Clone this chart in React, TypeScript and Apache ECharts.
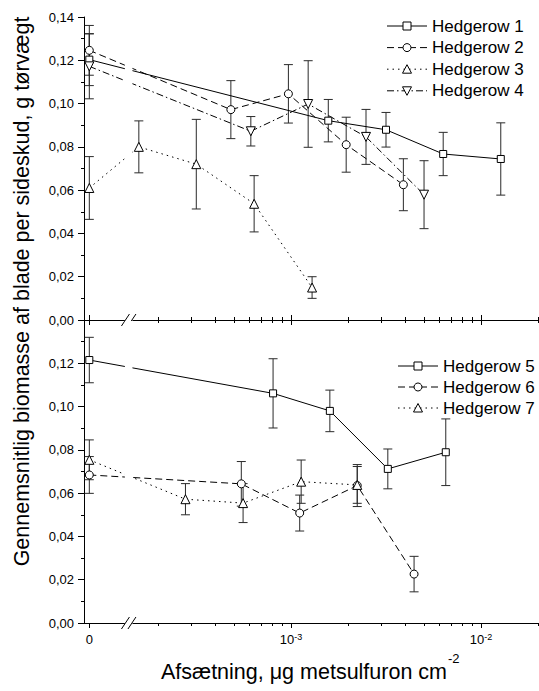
import React, { useEffect, useRef } from 'react';
import * as echarts from 'echarts';

// Axis layout constants (log10 units on the x axis)
const ZERO_POS = -4.062; // where the zero dose sits, left of the axis break
const BREAK_POS = -3.855; // axis break
const X_MIN = -4.09;
const X_MAX = -1.695;

const majorTickDoses = [0, 1e-3, 1e-2];
const minorTickDoses = [
  2e-4, 3e-4, 4e-4, 5e-4, 6e-4, 7e-4, 8e-4, 9e-4,
  2e-3, 3e-3, 4e-3, 5e-3, 6e-3, 7e-3, 8e-3, 9e-3, 2e-2,
];

// Top panel
const h1Dose = [0, 1.57e-3, 3.16e-3, 6.32e-3, 1.27e-2];
const h1Mean = [0.1203, 0.0921, 0.0879, 0.0767, 0.0744];
const h1Err = [0.012, 0.0098, 0.008, 0.01, 0.0167];

const h2Dose = [0, 4.82e-4, 9.68e-4, 1.95e-3, 3.9e-3];
const h2Mean = [0.1246, 0.0972, 0.1045, 0.081, 0.0625];
const h2Err = [0.0115, 0.0134, 0.0135, 0.0127, 0.012];

const h3Dose = [0, 1.58e-4, 3.17e-4, 6.39e-4, 1.29e-3];
const h3Mean = [0.061, 0.08, 0.072, 0.0537, 0.015];
const h3Err = [0.0145, 0.012, 0.0207, 0.013, 0.005];

const h4Dose = [0, 6.14e-4, 1.23e-3, 2.48e-3, 5.01e-3];
const h4Mean = [0.1172, 0.0872, 0.0998, 0.0846, 0.0579];
const h4Err = [0.015, 0.0068, 0.02, 0.0127, 0.0157];

// Bottom panel
const h5Dose = [0, 8.04e-4, 1.6e-3, 3.23e-3, 6.52e-3];
const h5Mean = [0.1215, 0.1061, 0.098, 0.0712, 0.0789];
const h5Err = [0.0105, 0.016, 0.0096, 0.0092, 0.0154];

const h6Dose = [0, 5.47e-4, 1.11e-3, 2.23e-3, 4.44e-3];
const h6Mean = [0.0684, 0.0643, 0.0508, 0.0635, 0.0226];
const h6Err = [0.0085, 0.0103, 0.0083, 0.0097, 0.0082];

const h7Dose = [0, 2.78e-4, 5.59e-4, 1.13e-3, 2.23e-3];
const h7Mean = [0.0754, 0.0572, 0.0554, 0.0653, 0.0638];
const h7Err = [0.0092, 0.0072, 0.009, 0.01, 0.0085];

const topLegend = ['Hedgerow 1', 'Hedgerow 2', 'Hedgerow 3', 'Hedgerow 4'];
const bottomLegend = ['Hedgerow 5', 'Hedgerow 6', 'Hedgerow 7'];

const FONT = 'Liberation Sans';

const DASH: Record<string, any> = {
  solid: 'solid',
  dashed: [7, 4],
  dotted: [1.5, 4],
  dashdot: [7, 3, 1.5, 3],
};
const topStyles = [
  { symbol: 'rect', dash: 'solid' },
  { symbol: 'circle', dash: 'dashed' },
  { symbol: 'up', dash: 'dotted' },
  { symbol: 'down', dash: 'dashdot' },
];
const bottomStyles = [
  { symbol: 'rect', dash: 'solid' },
  { symbol: 'circle', dash: 'dashed' },
  { symbol: 'up', dash: 'dotted' },
];

const toX = (d: number) => (d === 0 ? ZERO_POS : Math.log10(d));
const pts = (doses: number[], means: number[]) => doses.map((d, i) => [toX(d), means[i]]);

function lineSeries(name: string, doses: number[], means: number[], grid: number,
  symbol: string, size: number, dash: any, rotate = 0) {
  return {
    name,
    type: 'line',
    xAxisIndex: grid === 0 ? 0 : 4,
    yAxisIndex: grid,
    data: pts(doses, means),
    symbol,
    symbolSize: size,
    symbolRotate: rotate,
    showAllSymbol: true,
    lineStyle: { color: '#000', width: 1, type: dash },
    itemStyle: { color: '#fff', borderColor: '#000', borderWidth: 1 },
    z: 3,
    silent: true,
  };
}

function errorSeries(doses: number[], means: number[], errs: number[], grid: number) {
  return {
    type: 'custom',
    xAxisIndex: grid === 0 ? 0 : 4,
    yAxisIndex: grid,
    silent: true,
    z: 2,
    data: doses.map((d, i) => [toX(d), means[i] - errs[i], means[i] + errs[i]]),
    encode: { x: 0, y: [1, 2] },
    renderItem: (params: any, api: any) => {
      const x = api.value(0);
      const lo = api.coord([x, api.value(1)]);
      const hi = api.coord([x, api.value(2)]);
      const hw = 4.5;
      const style = { stroke: '#2a2a2a', lineWidth: 1, fill: 'none' };
      return {
        type: 'group',
        children: [
          { type: 'line', shape: { x1: lo[0], y1: lo[1], x2: hi[0], y2: hi[1] }, style },
          { type: 'line', shape: { x1: hi[0] - hw, y1: hi[1], x2: hi[0] + hw, y2: hi[1] }, style },
          { type: 'line', shape: { x1: lo[0] - hw, y1: lo[1], x2: lo[0] + hw, y2: lo[1] }, style },
        ],
      };
    },
  };
}

function breakSeries(grid: number) {
  return {
    type: 'custom',
    xAxisIndex: grid === 0 ? 0 : 4,
    yAxisIndex: grid,
    silent: true,
    z: 10,
    data: [[BREAK_POS, 0, 0.14]],
    renderItem: (params: any, api: any) => {
      const p0 = api.coord([api.value(0), api.value(1)]);
      const p1 = api.coord([api.value(0), api.value(2)]);
      const x = p0[0];
      const y = p0[1];
      const st = { stroke: '#000', lineWidth: 1, fill: 'none' };
      return {
        type: 'group',
        children: [
          { type: 'rect', shape: { x: x - 3.8, y: p1[1] + 1, width: 7.6, height: y - p1[1] + 0.5 }, style: { fill: '#fff' } },
          { type: 'line', shape: { x1: x - 7.2, y1: y + 6, x2: x + 0.8, y2: y - 6 }, style: st },
          { type: 'line', shape: { x1: x - 0.7, y1: y + 6, x2: x + 7.3, y2: y - 6 }, style: st },
        ],
      };
    },
  };
}

function xAxisDef(grid: number, values: number[], inside: boolean, len: number, main: boolean, labels: boolean) {
  return {
    type: 'value',
    gridIndex: grid,
    min: X_MIN,
    max: X_MAX,
    position: 'bottom',
    axisLine: { show: main, lineStyle: { color: '#000', width: 1 } },
    axisTick: {
      show: true,
      inside,
      length: len,
      customValues: values,
      lineStyle: { color: '#000', width: 1 },
    },
    axisLabel: labels
      ? {
          show: true,
          customValues: majorTickDoses.map(toX),
          margin: 9,
          color: '#000',
          fontSize: 13,
          formatter: (v: number) =>
            Math.abs(v - ZERO_POS) < 1e-6 ? '{b|0}' : '{b|10}{s|' + Math.round(v) + '}',
          rich: {
            b: { fontSize: 13, color: '#000', verticalAlign: 'bottom', lineHeight: 14 },
            s: { fontSize: 9, color: '#000', verticalAlign: 'top', lineHeight: 9, padding: [0, 0, 10, 0] },
          },
        }
      : { show: false },
    splitLine: { show: false },
  };
}

function yAxisDef(grid: number) {
  return {
    type: 'value',
    gridIndex: grid,
    min: 0,
    max: 0.14,
    interval: 0.02,
    axisLine: { show: true, lineStyle: { color: '#000', width: 1 } },
    axisTick: { show: true, inside: false, length: 6, lineStyle: { color: '#000' } },
    minorTick: { show: true, splitNumber: 2, length: 3, lineStyle: { color: '#000' } },
    axisLabel: {
      color: '#000',
      fontSize: 13,
      margin: 10,
      formatter: (v: number) => (grid === 1 && v > 0.13 ? '' : v.toFixed(2).replace('.', ',')),
    },
    splitLine: { show: false },
    minorSplitLine: { show: false },
  };
}

// Legend drawn as graphic groups: line sample, hollow marker, label
function legendItems(names: string[], styles: any[], left: number, top: number, step: number) {
  const out: any[] = [];
  names.forEach((name, i) => {
    const cy = top + i * step;
    const cx = left + 20;
    const st = styles[i];
    const dash = DASH[st.dash];
    const lineStyle: any = { stroke: '#000', lineWidth: 1, fill: 'none' };
    if (dash !== 'solid') lineStyle.lineDash = dash;
    const mStyle = { fill: '#fff', stroke: '#000', lineWidth: 1 };
    let marker: any;
    if (st.symbol === 'rect') {
      marker = { type: 'rect', shape: { x: cx - 4, y: cy - 4, width: 8, height: 8 }, style: mStyle };
    } else if (st.symbol === 'circle') {
      marker = { type: 'circle', shape: { cx, cy, r: 4 }, style: mStyle };
    } else if (st.symbol === 'up') {
      marker = { type: 'polygon', shape: { points: [[cx, cy - 4.5], [cx - 4.5, cy + 4], [cx + 4.5, cy + 4]] }, style: mStyle };
    } else {
      marker = { type: 'polygon', shape: { points: [[cx, cy + 4.5], [cx - 4.5, cy - 4], [cx + 4.5, cy - 4]] }, style: mStyle };
    }
    out.push({
      type: 'group',
      children: [
        { type: 'line', shape: { x1: left, y1: cy, x2: left + 40, y2: cy }, style: lineStyle },
        marker,
        {
          type: 'text',
          x: left + 45,
          y: cy,
          style: { text: name, fontSize: 17, fontFamily: FONT, fill: '#000', align: 'left', verticalAlign: 'middle' },
        },
      ],
    });
  });
  return out;
}

export default function App() {
  const ref = useRef<HTMLDivElement>(null);

  useEffect(() => {
    if (!ref.current) return;
    const chart = echarts.init(ref.current, null, { renderer: 'svg' });
    const majors = majorTickDoses.map(toX);
    const minors = minorTickDoses.map(toX);

    const option: any = {
      animation: false,
      backgroundColor: '#fff',
      grid: [
        { left: 84, top: 17, width: 455, height: 303 },
        { left: 84, top: 320, width: 455, height: 303 },
      ],
      xAxis: [
        xAxisDef(0, majors, false, 5, true, false),
        xAxisDef(0, majors, true, 5, false, false),
        xAxisDef(0, minors, false, 3, false, false),
        xAxisDef(0, minors, true, 3, false, false),
        xAxisDef(1, majors, false, 5, true, true),
        xAxisDef(1, minors, false, 3, false, false),
      ],
      yAxis: [yAxisDef(0), yAxisDef(1)],
      graphic: [
        ...legendItems(topLegend, topStyles, 387, 26, 21.6),
        ...legendItems(bottomLegend, bottomStyles, 398, 366, 21),
        {
          type: 'text',
          x: 21.5,
          y: 291.5,
          rotation: Math.PI / 2,
          style: {
            text: 'Gennemsnitlig biomasse af blade per sideskud, g tørvægt',
            fontSize: 21.5,
            fontFamily: FONT,
            fill: '#000',
            align: 'center',
            verticalAlign: 'middle',
          },
        },
        {
          type: 'text',
          x: 447,
          y: 671.5,
          style: {
            text: 'Afsætning, μg metsulfuron cm',
            fontSize: 21.5,
            fontFamily: FONT,
            fill: '#000',
            align: 'right',
            verticalAlign: 'middle',
          },
        },
        {
          type: 'text',
          x: 448,
          y: 658,
          style: {
            text: '-2',
            fontSize: 13,
            fontFamily: FONT,
            fill: '#000',
            align: 'left',
            verticalAlign: 'middle',
          },
        },
      ],
      series: [
        errorSeries(h1Dose, h1Mean, h1Err, 0),
        errorSeries(h2Dose, h2Mean, h2Err, 0),
        errorSeries(h3Dose, h3Mean, h3Err, 0),
        errorSeries(h4Dose, h4Mean, h4Err, 0),
        errorSeries(h5Dose, h5Mean, h5Err, 1),
        errorSeries(h6Dose, h6Mean, h6Err, 1),
        errorSeries(h7Dose, h7Mean, h7Err, 1),
        lineSeries('Hedgerow 1', h1Dose, h1Mean, 0, 'rect', 7, DASH.solid),
        lineSeries('Hedgerow 2', h2Dose, h2Mean, 0, 'circle', 8, DASH.dashed),
        lineSeries('Hedgerow 3', h3Dose, h3Mean, 0, 'triangle', 9, DASH.dotted),
        lineSeries('Hedgerow 4', h4Dose, h4Mean, 0, 'triangle', 9, DASH.dashdot, 180),
        lineSeries('Hedgerow 5', h5Dose, h5Mean, 1, 'rect', 7, DASH.solid),
        lineSeries('Hedgerow 6', h6Dose, h6Mean, 1, 'circle', 8, DASH.dashed),
        lineSeries('Hedgerow 7', h7Dose, h7Mean, 1, 'triangle', 9, DASH.dotted),
        breakSeries(0),
        breakSeries(1),
      ],
    };
    chart.setOption(option);
    return () => chart.dispose();
  }, []);

  return (
    <div
      ref={ref}
      style={{ position: 'fixed', left: 0, top: 0, width: 539, height: 691, background: '#fff' }}
    />
  );
}
